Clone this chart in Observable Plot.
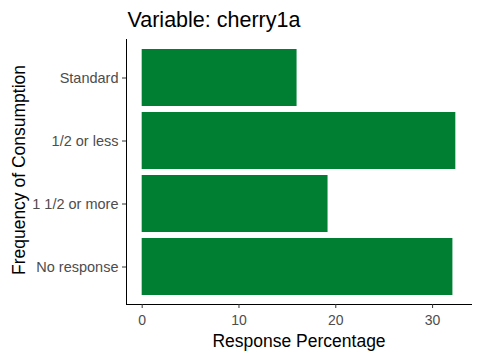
<!DOCTYPE html>
<html><head><meta charset="utf-8">
<script src="https://cdn.jsdelivr.net/npm/d3@7"></script>
<script src="https://cdn.jsdelivr.net/npm/@observablehq/plot@0.6"></script>
<style>body{margin:0;background:#fff;}</style>
</head><body><div id="chart"></div>
<script>
const title = "Variable: cherry1a";
const xLabel = "Response Percentage";
const yLabel = "Frequency of Consumption";
const categories = ["Standard", "1/2 or less", "1 1/2 or more", "No response"];
const values = [16.0, 32.4, 19.2, 32.1];
const xTicks = [0, 10, 20, 30];

const data = categories.map((c, i) => ({category: c, value: values[i]}));
const xMax = d3.max(values);
const pad = xMax * 0.05;
const font = "'Liberation Sans', Arial, sans-serif";

const chart = Plot.plot({
  width: 480, height: 360,
  marginTop: 39, marginBottom: 56, marginLeft: 126, marginRight: 9,
  style: {fontFamily: font, background: "#fff", overflow: "visible"},
  x: {domain: [-pad, xMax + pad]},
  y: {domain: categories, paddingInner: 0.1, paddingOuter: 0.15},
  marks: [
    Plot.barX(data, {x: "value", y: "category", fill: "#007F33"}),
    Plot.frame({anchor: "left", stroke: "#000"}),
    Plot.frame({anchor: "bottom", stroke: "#000"}),
    Plot.axisX({ticks: xTicks, tickSize: 4, tickPadding: 7, fontSize: 14, stroke: "#333", fill: "#4D4D4D", label: null}),
    Plot.axisY({tickSize: 4, tickPadding: 4, fontSize: 14.5, stroke: "#333", fill: "#4D4D4D", label: null}),
    Plot.text([title], {text: d => d, frameAnchor: "top-left", textAnchor: "start", lineAnchor: "middle", dx: 1, dy: -19.4, fontSize: 21.5, fill: "#000"}),
    Plot.text([xLabel], {text: d => d, frameAnchor: "bottom", textAnchor: "middle", lineAnchor: "middle", dy: 36.9, fontSize: 17.5, fill: "#000"}),
    Plot.text([yLabel], {text: d => d, frameAnchor: "left", textAnchor: "middle", rotate: -90, lineAnchor: "middle", dx: -107.6, dy: -2, fontSize: 17.5, fill: "#000"})
  ]
});
document.getElementById("chart").appendChild(chart);
</script>
</body></html>
